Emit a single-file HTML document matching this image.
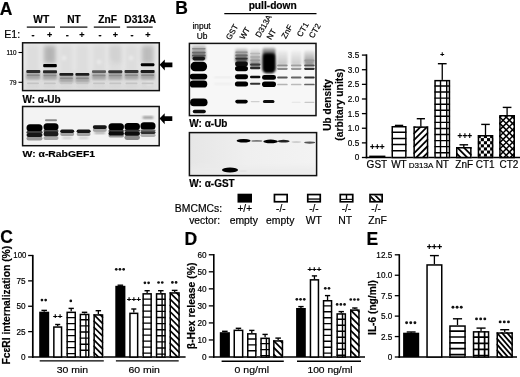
<!DOCTYPE html><html><head><meta charset="utf-8"><style>html,body{margin:0;padding:0;background:#fff;width:520px;height:377px;overflow:hidden;}svg{display:block;font-family:"Liberation Sans",sans-serif;filter:grayscale(1);}text{stroke:#000;stroke-width:0.18px;}</style></head><body><svg width="520" height="377" viewBox="0 0 520 377" font-family='"Liberation Sans", sans-serif' fill="#000"><defs><filter id="b05" x="-50%" y="-50%" width="200%" height="200%"><feGaussianBlur stdDeviation="0.5"/></filter><filter id="b07" x="-50%" y="-50%" width="200%" height="200%"><feGaussianBlur stdDeviation="0.7"/></filter><filter id="b08" x="-50%" y="-50%" width="200%" height="200%"><feGaussianBlur stdDeviation="0.8"/></filter><filter id="b12" x="-50%" y="-50%" width="200%" height="200%"><feGaussianBlur stdDeviation="1.2"/></filter><filter id="b2" x="-50%" y="-50%" width="200%" height="200%"><feGaussianBlur stdDeviation="2"/></filter><filter id="b3" x="-50%" y="-50%" width="200%" height="200%"><feGaussianBlur stdDeviation="3"/></filter><clipPath id="cA1"><rect x="22.6" y="42.8" width="136.70000000000002" height="47.8"/></clipPath><clipPath id="cA2"><rect x="22.6" y="106.5" width="136.6" height="39.19999999999999"/></clipPath><clipPath id="cB1"><rect x="189.4" y="43.4" width="126.6" height="72.19999999999999"/></clipPath><linearGradient id="gs1" x1="0" y1="0" x2="0" y2="1"><stop offset="0" stop-color="#d8d8d8"/><stop offset="1" stop-color="#505050"/></linearGradient><linearGradient id="gs2" x1="0" y1="0" x2="0" y2="1"><stop offset="0" stop-color="#e2e2e2"/><stop offset="1" stop-color="#3a3a3a"/></linearGradient><linearGradient id="gs3" x1="0" y1="0" x2="0" y2="1"><stop offset="0" stop-color="#ececec"/><stop offset="1" stop-color="#8a8a8a"/></linearGradient><linearGradient id="gs4" x1="0" y1="0" x2="0" y2="1"><stop offset="0" stop-color="#c8c8c8"/><stop offset="1" stop-color="#1a1a1a"/></linearGradient><linearGradient id="gs5" x1="0" y1="0" x2="0" y2="1"><stop offset="0" stop-color="#eeeeee"/><stop offset="1" stop-color="#c4c4c4"/></linearGradient><linearGradient id="gs6" x1="0" y1="0" x2="0" y2="1"><stop offset="0" stop-color="#f0f0f0"/><stop offset="1" stop-color="#cacaca"/></linearGradient><linearGradient id="gs7" x1="0" y1="0" x2="0" y2="1"><stop offset="0" stop-color="#e8e8e8"/><stop offset="1" stop-color="#8a8a8a"/></linearGradient><clipPath id="cB2"><rect x="189.4" y="132.6" width="127.20000000000002" height="43.0"/></clipPath><linearGradient id="gB2" x1="0" y1="0" x2="1" y2="0"><stop offset="0" stop-color="#e6e6e6"/><stop offset="0.45" stop-color="#efefef"/><stop offset="1" stop-color="#f3f3f3"/></linearGradient><clipPath id="bc1"><rect x="391.5" y="126.0" width="15.100000000000023" height="31.5"/></clipPath><clipPath id="bc2"><rect x="413.4" y="126.4" width="14.900000000000034" height="31.099999999999994"/></clipPath><clipPath id="bc3"><rect x="434.3" y="79.9" width="15.899999999999977" height="77.6"/></clipPath><clipPath id="bc4"><rect x="456.0" y="147.0" width="15.600000000000023" height="10.5"/></clipPath><clipPath id="bc5"><rect x="477.7" y="135.0" width="15.600000000000023" height="22.5"/></clipPath><clipPath id="bc6"><rect x="499.2" y="115.0" width="15.800000000000011" height="42.5"/></clipPath><clipPath id="bc7"><rect x="66.4" y="311.6" width="9.599999999999994" height="45.39999999999998"/></clipPath><clipPath id="bc8"><rect x="79.6" y="313.7" width="9.900000000000006" height="43.30000000000001"/></clipPath><clipPath id="bc9"><rect x="93.4" y="314.2" width="9.899999999999991" height="42.80000000000001"/></clipPath><clipPath id="bc10"><rect x="142.4" y="293.1" width="9.5" height="63.89999999999998"/></clipPath><clipPath id="bc11"><rect x="155.8" y="293.1" width="10.0" height="63.89999999999998"/></clipPath><clipPath id="bc12"><rect x="169.5" y="292.2" width="10.300000000000011" height="64.80000000000001"/></clipPath><clipPath id="bc13"><rect x="247.0" y="333.1" width="9.600000000000023" height="23.899999999999977"/></clipPath><clipPath id="bc14"><rect x="260.3" y="337.6" width="9.599999999999966" height="19.399999999999977"/></clipPath><clipPath id="bc15"><rect x="273.1" y="340.2" width="10.099999999999966" height="16.80000000000001"/></clipPath><clipPath id="bc16"><rect x="322.8" y="300.0" width="9.5" height="57.0"/></clipPath><clipPath id="bc17"><rect x="336.4" y="313.2" width="9.700000000000045" height="43.80000000000001"/></clipPath><clipPath id="bc18"><rect x="350.0" y="309.4" width="9.699999999999989" height="47.60000000000002"/></clipPath><clipPath id="bc19"><rect x="449.2" y="325.3" width="16.600000000000023" height="31.69999999999999"/></clipPath><clipPath id="bc20"><rect x="472.8" y="331.1" width="16.5" height="25.899999999999977"/></clipPath><clipPath id="bc21"><rect x="496.5" y="332.3" width="16.399999999999977" height="24.69999999999999"/></clipPath></defs><rect width="520" height="377" fill="#fff"/><text x="-0.2" y="15.0" font-size="17.5" font-weight="bold" text-anchor="start" >A</text>
<text x="41.2" y="23.0" font-size="10.2" font-weight="bold" text-anchor="middle" >WT</text>
<text x="74" y="23.0" font-size="10.2" font-weight="bold" text-anchor="middle" >NT</text>
<text x="107.7" y="23.0" font-size="10.2" font-weight="bold" text-anchor="middle" >ZnF</text>
<text x="140.2" y="23.0" font-size="10.2" font-weight="bold" text-anchor="middle" >D313A</text>
<line x1="26.8" y1="27.1" x2="55" y2="27.1" stroke="#000" stroke-width="1.2"/>
<line x1="60" y1="27.1" x2="87.4" y2="27.1" stroke="#000" stroke-width="1.2"/>
<line x1="93.8" y1="27.1" x2="120.1" y2="27.1" stroke="#000" stroke-width="1.2"/>
<line x1="126.7" y1="27.1" x2="152.7" y2="27.1" stroke="#000" stroke-width="1.2"/>
<text transform="translate(4.3,38.4) scale(1.06,1)" font-size="10" text-anchor="start" stroke="#000" stroke-width="0.35">E1:</text>
<text x="33" y="38.4" font-size="9" font-weight="bold" text-anchor="middle" >-</text>
<text x="49.6" y="38.4" font-size="9" font-weight="bold" text-anchor="middle" >+</text>
<text x="67.3" y="38.4" font-size="9" font-weight="bold" text-anchor="middle" >-</text>
<text x="82" y="38.4" font-size="9" font-weight="bold" text-anchor="middle" >+</text>
<text x="99.9" y="38.4" font-size="9" font-weight="bold" text-anchor="middle" >-</text>
<text x="115.5" y="38.4" font-size="9" font-weight="bold" text-anchor="middle" >+</text>
<text x="132" y="38.4" font-size="9" font-weight="bold" text-anchor="middle" >-</text>
<text x="148" y="38.4" font-size="9" font-weight="bold" text-anchor="middle" >+</text>
<rect x="22.6" y="42.8" width="136.70000000000002" height="47.8" fill="#e9e9e9"/>
<g clip-path="url(#cA1)">
<rect x="22.6" y="72.8" width="136.70000000000002" height="20" fill="#dcdcdc" filter="url(#b3)"/>
<rect x="26.5" y="44.8" width="13" height="43.8" fill="#dddddd" filter="url(#b2)"/>
<rect x="43.3" y="44.8" width="13" height="43.8" fill="#dddddd" filter="url(#b2)"/>
<rect x="59.7" y="44.8" width="13" height="43.8" fill="#dddddd" filter="url(#b2)"/>
<rect x="75.9" y="44.8" width="13" height="43.8" fill="#dddddd" filter="url(#b2)"/>
<rect x="92.5" y="44.8" width="13" height="43.8" fill="#dddddd" filter="url(#b2)"/>
<rect x="108.8" y="44.8" width="13" height="43.8" fill="#dddddd" filter="url(#b2)"/>
<rect x="125.0" y="44.8" width="13" height="43.8" fill="#dddddd" filter="url(#b2)"/>
<rect x="141.1" y="44.8" width="13" height="43.8" fill="#dddddd" filter="url(#b2)"/>
<circle cx="64" cy="58" r="2.5" fill="#e8e8e8" filter="url(#b12)"/>
<circle cx="99" cy="62" r="2.5" fill="#e8e8e8" filter="url(#b12)"/>
<circle cx="112" cy="60" r="2.5" fill="#e8e8e8" filter="url(#b12)"/>
<circle cx="131" cy="58" r="2.5" fill="#e8e8e8" filter="url(#b12)"/>
<circle cx="149" cy="84" r="2.5" fill="#e8e8e8" filter="url(#b12)"/>
<rect x="44.3" y="46" width="11" height="17" fill="#b4b4b4" filter="url(#b2)"/>
<rect x="142.1" y="46" width="11" height="17" fill="#bcbcbc" filter="url(#b2)"/>
<rect x="109.8" y="46" width="11" height="17" fill="#d2d2d2" filter="url(#b2)"/>
<rect x="26.5" y="72.9" width="13" height="7" fill="#c2c2c2" filter="url(#b12)"/>
<rect x="43.3" y="73.2" width="13" height="7" fill="#c2c2c2" filter="url(#b12)"/>
<rect x="59.7" y="75.9" width="13" height="7" fill="#c2c2c2" filter="url(#b12)"/>
<rect x="75.9" y="75.9" width="13" height="7" fill="#c2c2c2" filter="url(#b12)"/>
<rect x="92.5" y="73.2" width="13" height="7" fill="#c2c2c2" filter="url(#b12)"/>
<rect x="108.8" y="73.2" width="13" height="7" fill="#c2c2c2" filter="url(#b12)"/>
<rect x="125.0" y="72.9" width="13" height="7" fill="#c2c2c2" filter="url(#b12)"/>
<rect x="141.1" y="72.9" width="13" height="7" fill="#c2c2c2" filter="url(#b12)"/>
<rect x="26.499999999999996" y="72.4" width="13.6" height="6.5" fill="#a6a6a6" filter="url(#b08)"/>
<rect x="26.299999999999997" y="69.9" width="14" height="3.0" rx="1" fill="#2e2e2e" filter="url(#b07)"/>
<rect x="26.799999999999997" y="74.5" width="13.0" height="1.4" rx="0.7" fill="#8a8a8a" opacity="1" filter="url(#b07)"/>
<rect x="43.2" y="72.7" width="13.6" height="6.5" fill="#a6a6a6" filter="url(#b08)"/>
<rect x="43.0" y="70.2" width="14" height="3.0" rx="1" fill="#262626" filter="url(#b07)"/>
<rect x="43.5" y="74.8" width="13.0" height="1.4" rx="0.7" fill="#8a8a8a" opacity="1" filter="url(#b07)"/>
<rect x="59.60000000000001" y="75.4" width="13.6" height="6.5" fill="#a6a6a6" filter="url(#b08)"/>
<rect x="59.400000000000006" y="73.10000000000001" width="14" height="2.6" rx="1" fill="#1a1a1a" filter="url(#b07)"/>
<rect x="59.900000000000006" y="77.5" width="13.0" height="1.4" rx="0.7" fill="#8a8a8a" opacity="1" filter="url(#b07)"/>
<rect x="75.60000000000001" y="75.4" width="13.6" height="6.5" fill="#a6a6a6" filter="url(#b08)"/>
<rect x="75.4" y="73.10000000000001" width="14" height="2.6" rx="1" fill="#1c1c1c" filter="url(#b07)"/>
<rect x="75.9" y="77.5" width="13.0" height="1.4" rx="0.7" fill="#8a8a8a" opacity="1" filter="url(#b07)"/>
<rect x="92.2" y="72.7" width="13.6" height="6.5" fill="#a6a6a6" filter="url(#b08)"/>
<rect x="92" y="70.3" width="14" height="2.8" rx="1" fill="#5a5a5a" filter="url(#b07)"/>
<rect x="92.5" y="74.8" width="13.0" height="1.4" rx="0.7" fill="#8a8a8a" opacity="1" filter="url(#b07)"/>
<rect x="108.5" y="72.7" width="13.6" height="6.5" fill="#a6a6a6" filter="url(#b08)"/>
<rect x="108.3" y="70.2" width="14" height="3.0" rx="1" fill="#363636" filter="url(#b07)"/>
<rect x="108.8" y="74.8" width="13.0" height="1.4" rx="0.7" fill="#8a8a8a" opacity="1" filter="url(#b07)"/>
<rect x="124.7" y="72.4" width="13.6" height="6.5" fill="#a6a6a6" filter="url(#b08)"/>
<rect x="124.5" y="69.9" width="14" height="3.0" rx="1" fill="#363636" filter="url(#b07)"/>
<rect x="125.0" y="74.5" width="13.0" height="1.4" rx="0.7" fill="#8a8a8a" opacity="1" filter="url(#b07)"/>
<rect x="140.79999999999998" y="72.4" width="13.6" height="6.5" fill="#a6a6a6" filter="url(#b08)"/>
<rect x="140.6" y="69.9" width="14" height="3.0" rx="1" fill="#1e1e1e" filter="url(#b07)"/>
<rect x="141.1" y="74.5" width="13.0" height="1.4" rx="0.7" fill="#8a8a8a" opacity="1" filter="url(#b07)"/>
<rect x="43.2" y="63.99999999999999" width="13.6" height="3.2" rx="1" fill="#000" filter="url(#b07)"/>
<rect x="140.79999999999998" y="63.3" width="13.6" height="3.0" rx="1" fill="#000" filter="url(#b07)"/>
<rect x="27" y="82.60000000000001" width="12" height="1.6" rx="0.8" fill="#c4c4c4" opacity="1" filter="url(#b07)"/>
<rect x="27" y="85.7" width="12" height="1.6" rx="0.8" fill="#d2d2d2" opacity="1" filter="url(#b08)"/>
<rect x="43.8" y="82.60000000000001" width="12.0" height="1.6" rx="0.8" fill="#c4c4c4" opacity="1" filter="url(#b07)"/>
<rect x="43.8" y="85.7" width="12.0" height="1.6" rx="0.8" fill="#d2d2d2" opacity="1" filter="url(#b08)"/>
<rect x="60.2" y="82.60000000000001" width="12.0" height="1.6" rx="0.8" fill="#c4c4c4" opacity="1" filter="url(#b07)"/>
<rect x="60.2" y="85.7" width="12.0" height="1.6" rx="0.8" fill="#d2d2d2" opacity="1" filter="url(#b08)"/>
<rect x="76.4" y="82.60000000000001" width="12.0" height="1.6" rx="0.8" fill="#c4c4c4" opacity="1" filter="url(#b07)"/>
<rect x="76.4" y="85.7" width="12.0" height="1.6" rx="0.8" fill="#d2d2d2" opacity="1" filter="url(#b08)"/>
<rect x="93" y="82.60000000000001" width="12" height="1.6" rx="0.8" fill="#c4c4c4" opacity="1" filter="url(#b07)"/>
<rect x="93" y="85.7" width="12" height="1.6" rx="0.8" fill="#d2d2d2" opacity="1" filter="url(#b08)"/>
<rect x="109.3" y="82.60000000000001" width="12.0" height="1.6" rx="0.8" fill="#c4c4c4" opacity="1" filter="url(#b07)"/>
<rect x="109.3" y="85.7" width="12.0" height="1.6" rx="0.8" fill="#d2d2d2" opacity="1" filter="url(#b08)"/>
<rect x="125.5" y="82.60000000000001" width="12.0" height="1.6" rx="0.8" fill="#c4c4c4" opacity="1" filter="url(#b07)"/>
<rect x="125.5" y="85.7" width="12.0" height="1.6" rx="0.8" fill="#d2d2d2" opacity="1" filter="url(#b08)"/>
<rect x="141.6" y="82.60000000000001" width="12.0" height="1.6" rx="0.8" fill="#c4c4c4" opacity="1" filter="url(#b07)"/>
<rect x="141.6" y="85.7" width="12.0" height="1.6" rx="0.8" fill="#d2d2d2" opacity="1" filter="url(#b08)"/>
</g>
<rect x="22.6" y="42.8" width="136.70000000000002" height="47.8" fill="none" stroke="#111" stroke-width="1.5"/>
<line x1="18.5" y1="52.5" x2="22.6" y2="52.5" stroke="#000" stroke-width="1.1"/>
<line x1="18.5" y1="82.3" x2="22.6" y2="82.3" stroke="#000" stroke-width="1.1"/>
<text x="16.6" y="54.8" font-size="6.3" text-anchor="end" >110</text>
<text x="16.6" y="84.6" font-size="6.3" text-anchor="end" >79</text>
<path d="M159.6,64.8 L164.79999999999998,59.4 L164.79999999999998,62.4 L172.4,62.4 L172.4,67.2 L164.79999999999998,67.2 L164.79999999999998,70.39999999999999 Z" fill="#000"/>
<text x="22.5" y="102.8" font-size="10" font-weight="bold" text-anchor="start" >W: α-Ub</text>
<rect x="22.6" y="106.5" width="136.6" height="39.19999999999999" fill="#f3f3f3"/>
<g clip-path="url(#cA2)">
<rect x="26.5" y="136.5" width="16" height="4.0" rx="2.0" fill="#9a9a9a" filter="url(#b07)"/>
<rect x="26.5" y="124.3" width="16" height="7.200000000000003" rx="3.5" fill="#000" filter="url(#b07)"/>
<rect x="26.5" y="131.0" width="16" height="2.5" rx="1.25" fill="#3a3a3a" filter="url(#b07)"/>
<rect x="26.5" y="133.0" width="16" height="4.0" rx="2.0" fill="#141414" filter="url(#b07)"/>
<rect x="45" y="119.3" width="12" height="2.0" rx="1.0" fill="#8a8a8a" opacity="1" filter="url(#b07)"/>
<rect x="43.5" y="136" width="15" height="4" rx="2.0" fill="#a8a8a8" filter="url(#b07)"/>
<rect x="43.5" y="123.3" width="15" height="7.200000000000003" rx="3.5" fill="#000" filter="url(#b07)"/>
<rect x="43.5" y="130.0" width="15" height="2.0" rx="1.0" fill="#484848" filter="url(#b07)"/>
<rect x="43.5" y="131.6" width="15" height="4.599999999999994" rx="2.299999999999997" fill="#1c1c1c" filter="url(#b07)"/>
<rect x="60.2" y="132.2" width="14" height="3.8000000000000114" rx="1.9000000000000057" fill="#a2a2a2" filter="url(#b07)"/>
<rect x="60.2" y="129.4" width="14" height="3.5999999999999943" rx="1.7999999999999972" fill="#121212" filter="url(#b07)"/>
<rect x="62.2" y="137.1" width="10.0" height="1.6" rx="0.8" fill="#c4c4c4" opacity="1" filter="url(#b08)"/>
<rect x="76.6" y="132.2" width="14" height="3.8000000000000114" rx="1.9000000000000057" fill="#a2a2a2" filter="url(#b07)"/>
<rect x="76.6" y="129.4" width="14" height="3.5999999999999943" rx="1.7999999999999972" fill="#121212" filter="url(#b07)"/>
<rect x="78.6" y="137.1" width="10.0" height="1.6" rx="0.8" fill="#c4c4c4" opacity="1" filter="url(#b08)"/>
<rect x="92.8" y="128.4" width="14" height="3.4000000000000057" rx="1.7000000000000028" fill="#a4a4a4" filter="url(#b07)"/>
<rect x="92.8" y="125.2" width="14" height="3.700000000000003" rx="1.8500000000000014" fill="#141414" filter="url(#b07)"/>
<rect x="94.3" y="131.89999999999998" width="11.0" height="1.6" rx="0.8" fill="#888" opacity="1" filter="url(#b08)"/>
<rect x="108.45" y="134" width="15.5" height="3.5" rx="1.75" fill="#9a9a9a" filter="url(#b07)"/>
<rect x="108.45" y="123.2" width="15.5" height="7.299999999999997" rx="3.5" fill="#000" filter="url(#b07)"/>
<rect x="108.45" y="130.0" width="15.5" height="2.0" rx="1.0" fill="#3c3c3c" filter="url(#b07)"/>
<rect x="108.45" y="131.6" width="15.5" height="3.8000000000000114" rx="1.9000000000000057" fill="#0e0e0e" filter="url(#b07)"/>
<rect x="124.44999999999999" y="135.2" width="15.5" height="4.800000000000011" rx="2.4000000000000057" fill="#8a8a8a" filter="url(#b07)"/>
<rect x="124.44999999999999" y="123.0" width="15.5" height="7.199999999999989" rx="3.5" fill="#000" filter="url(#b07)"/>
<rect x="124.44999999999999" y="129.8" width="15.5" height="1.799999999999983" rx="0.8999999999999915" fill="#3a3a3a" filter="url(#b07)"/>
<rect x="124.44999999999999" y="131.2" width="15.5" height="4.600000000000023" rx="2.3000000000000114" fill="#0a0a0a" filter="url(#b07)"/>
<rect x="142.5" y="116.4" width="11.0" height="2.2" rx="1.1" fill="#7a7a7a" opacity="1" filter="url(#b08)"/>
<rect x="140.5" y="133.6" width="15" height="3.4000000000000057" rx="1.7000000000000028" fill="#b0b0b0" filter="url(#b07)"/>
<rect x="140.5" y="122.2" width="15" height="7.6000000000000085" rx="3.5" fill="#000" filter="url(#b07)"/>
<rect x="140.5" y="129.4" width="15" height="2.0" rx="1.0" fill="#6a6a6a" filter="url(#b07)"/>
<rect x="140.5" y="131.2" width="15" height="2.8000000000000114" rx="1.4000000000000057" fill="#2e2e2e" filter="url(#b07)"/>
</g>
<rect x="22.6" y="106.5" width="136.6" height="39.19999999999999" fill="none" stroke="#111" stroke-width="1.5"/>
<path d="M159.5,118.6 L164.7,113.19999999999999 L164.7,116.19999999999999 L172.3,116.19999999999999 L172.3,121.0 L164.7,121.0 L164.7,124.19999999999999 Z" fill="#000"/>
<text transform="translate(22.6,157.0) scale(1.08,1)" font-size="9.6" font-weight="bold" text-anchor="start" >W: α-RabGEF1</text>
<text x="175.2" y="13.9" font-size="17.5" font-weight="bold" text-anchor="start" >B</text>
<text x="272.7" y="9.4" font-size="10.2" font-weight="bold" text-anchor="middle" >pull-down</text>
<line x1="224.3" y1="13.6" x2="316.5" y2="13.6" stroke="#000" stroke-width="1.2"/>
<text x="201.6" y="29.0" font-size="8.4" text-anchor="middle" >input</text>
<text x="202" y="39.4" font-size="8.4" text-anchor="middle" >Ub</text>
<text transform="translate(230.3,40.6) rotate(-60)" font-size="8">GST</text>
<text transform="translate(244.0,40.1) rotate(-60)" font-size="8">WT</text>
<text transform="translate(259.8,38.0) rotate(-60)" font-size="8">D313A</text>
<text transform="translate(271.0,40.3) rotate(-60)" font-size="8">NT</text>
<text transform="translate(285.8,39.2) rotate(-60)" font-size="8">ZnF</text>
<text transform="translate(301.3,37.6) rotate(-60)" font-size="8">CT1</text>
<text transform="translate(313.3,38.8) rotate(-60)" font-size="8">CT2</text>
<rect x="189.4" y="43.4" width="126.6" height="72.19999999999999" fill="#f7f7f7"/>
<g clip-path="url(#cB1)">
<rect x="191.8" y="45.0" width="14" height="15.0" rx="2" fill="url(#gs1)" opacity="1" filter="url(#b12)"/>
<rect x="192.0" y="48.0" width="13.600000000000023" height="1.6" rx="0.8" fill="#8a8a8a" opacity="1" filter="url(#b07)"/>
<rect x="192.0" y="51.800000000000004" width="13.600000000000023" height="1.6" rx="0.8" fill="#6a6a6a" opacity="1" filter="url(#b07)"/>
<rect x="192.0" y="54.800000000000004" width="13.600000000000023" height="1.6" rx="0.8" fill="#555" opacity="1" filter="url(#b07)"/>
<rect x="192.55" y="56.8" width="12.5" height="3.6000000000000014" rx="1.8" fill="#151515" filter="url(#b07)"/>
<rect x="190.55" y="61.8" width="16.5" height="9.400000000000006" rx="4.5" fill="#000" filter="url(#b07)"/>
<rect x="189.75" y="73.8" width="17.5" height="5.6000000000000085" rx="2.8" fill="#000" filter="url(#b07)"/>
<rect x="189.75" y="80.6" width="17.5" height="7.0" rx="3.4" fill="#000" filter="url(#b07)"/>
<rect x="190.05" y="98.6" width="17.5" height="7.6000000000000085" rx="3.8" fill="#000" filter="url(#b07)"/>
<rect x="192.8" y="109.8" width="13" height="3.4000000000000057" rx="1.7" fill="#080808" filter="url(#b07)"/>
<rect x="214" y="76.7" width="18" height="1.4" rx="0.7" fill="#e6e6e6" opacity="1" filter="url(#b08)"/>
<rect x="214" y="83.1" width="18" height="1.4" rx="0.7" fill="#ebebeb" opacity="1" filter="url(#b08)"/>
<rect x="235.25" y="48.0" width="12.5" height="14.5" rx="2" fill="url(#gs2)" opacity="1" filter="url(#b12)"/>
<rect x="235.3" y="51.400000000000006" width="12.399999999999977" height="1.6" rx="0.8" fill="#909090" opacity="1" filter="url(#b07)"/>
<rect x="235.3" y="54.6" width="12.399999999999977" height="1.6" rx="0.8" fill="#6a6a6a" opacity="1" filter="url(#b07)"/>
<rect x="235.3" y="57.800000000000004" width="12.399999999999977" height="1.6" rx="0.8" fill="#333" opacity="1" filter="url(#b07)"/>
<rect x="235.0" y="61.6" width="13" height="4.800000000000004" rx="2.4" fill="#0a0a0a" filter="url(#b07)"/>
<rect x="235.0" y="66.0" width="13" height="5.200000000000003" rx="2.6" fill="#000" filter="url(#b07)"/>
<rect x="234.9" y="74.3" width="13.2" height="4.900000000000006" rx="2.4" fill="#000" filter="url(#b07)"/>
<rect x="234.9" y="81.6" width="13.2" height="5.0" rx="2.5" fill="#000" filter="url(#b07)"/>
<rect x="235.25" y="99.8" width="12.5" height="3.6000000000000085" rx="1.8" fill="#000" filter="url(#b07)"/>
<rect x="249.95" y="48.5" width="10.5" height="17.5" rx="2" fill="url(#gs3)" opacity="1" filter="url(#b12)"/>
<rect x="250.2" y="52.75" width="10.0" height="1.5" rx="0.75" fill="#b8b8b8" opacity="1" filter="url(#b07)"/>
<rect x="250.2" y="56.25" width="10.0" height="1.5" rx="0.75" fill="#a8a8a8" opacity="1" filter="url(#b07)"/>
<rect x="250.2" y="59.55" width="10.0" height="1.5" rx="0.75" fill="#999" opacity="1" filter="url(#b07)"/>
<rect x="250.0" y="63.39999999999999" width="10.399999999999977" height="2.4" rx="1.2" fill="#3a3a3a" opacity="1" filter="url(#b07)"/>
<rect x="250.0" y="66.60000000000001" width="10.399999999999977" height="2.6" rx="1.3" fill="#2a2a2a" opacity="1" filter="url(#b07)"/>
<rect x="250.0" y="75.8" width="10.399999999999977" height="2.4" rx="1.2" fill="#111" opacity="1" filter="url(#b07)"/>
<rect x="250.0" y="82.8" width="10.399999999999977" height="2.0" rx="1.0" fill="#333" opacity="1" filter="url(#b07)"/>
<rect x="250.7" y="100.94999999999999" width="9.0" height="1.3" rx="0.65" fill="#cfcfcf" opacity="1" filter="url(#b07)"/>
<rect x="262.5" y="47.5" width="13" height="9.5" rx="2" fill="url(#gs4)" opacity="1" filter="url(#b12)"/>
<rect x="262.25" y="53.5" width="13.5" height="19.700000000000003" rx="4.5" fill="#000" filter="url(#b08)"/>
<rect x="262.0" y="75.0" width="14" height="4.799999999999997" rx="2.4" fill="#000" filter="url(#b07)"/>
<rect x="262.0" y="81.4" width="14" height="5.599999999999994" rx="2.8" fill="#000" filter="url(#b07)"/>
<rect x="262.95" y="99.9" width="11.5" height="3.1999999999999886" rx="1.6" fill="#080808" filter="url(#b07)"/>
<rect x="277.15" y="50.5" width="10.5" height="14.5" rx="2" fill="url(#gs5)" opacity="1" filter="url(#b12)"/>
<rect x="277.09999999999997" y="64.4" width="10.600000000000023" height="2.0" rx="1.0" fill="#8e8e8e" opacity="1" filter="url(#b05)"/>
<rect x="277.09999999999997" y="67.7" width="10.600000000000023" height="2.2" rx="1.1" fill="#8a8a8a" opacity="1" filter="url(#b05)"/>
<rect x="277.09999999999997" y="76.4" width="10.600000000000023" height="2.0" rx="1.0" fill="#555" opacity="1" filter="url(#b05)"/>
<rect x="277.09999999999997" y="83.65" width="10.600000000000023" height="1.7" rx="0.85" fill="#b4b4b4" opacity="1" filter="url(#b05)"/>
<rect x="290.95" y="50.5" width="10.5" height="14.5" rx="2" fill="url(#gs6)" opacity="1" filter="url(#b12)"/>
<rect x="290.9" y="64.4" width="10.600000000000023" height="2.0" rx="1.0" fill="#a0a0a0" opacity="1" filter="url(#b05)"/>
<rect x="290.9" y="67.7" width="10.600000000000023" height="2.2" rx="1.1" fill="#9a9a9a" opacity="1" filter="url(#b05)"/>
<rect x="290.9" y="76.4" width="10.600000000000023" height="2.0" rx="1.0" fill="#666" opacity="1" filter="url(#b05)"/>
<rect x="290.9" y="83.65" width="10.600000000000023" height="1.7" rx="0.85" fill="#bbbbbb" opacity="1" filter="url(#b05)"/>
<rect x="304.15" y="50.5" width="10.5" height="14.5" rx="2" fill="url(#gs7)" opacity="1" filter="url(#b12)"/>
<rect x="304.09999999999997" y="64.4" width="10.600000000000023" height="2.0" rx="1.0" fill="#555" opacity="1" filter="url(#b05)"/>
<rect x="304.09999999999997" y="67.7" width="10.600000000000023" height="2.2" rx="1.1" fill="#333" opacity="1" filter="url(#b05)"/>
<rect x="304.09999999999997" y="76.4" width="10.600000000000023" height="2.0" rx="1.0" fill="#333" opacity="1" filter="url(#b05)"/>
<rect x="304.09999999999997" y="83.65" width="10.600000000000023" height="1.7" rx="0.85" fill="#666" opacity="1" filter="url(#b05)"/>
<rect x="304.4" y="59.6" width="10.0" height="1.8" rx="0.9" fill="#999" opacity="1" filter="url(#b05)"/>
<rect x="304.4" y="101.64999999999999" width="10.0" height="1.3" rx="0.65" fill="#c8c8c8" opacity="1" filter="url(#b05)"/>
<rect x="291.7" y="101.8" width="9.0" height="1.0" rx="0.5" fill="#e4e4e4" opacity="1" filter="url(#b05)"/>
</g>
<rect x="189.4" y="43.4" width="126.6" height="72.19999999999999" fill="none" stroke="#111" stroke-width="1.5"/>
<text x="189.3" y="126.8" font-size="10" font-weight="bold" text-anchor="start" >W: α-Ub</text>
<rect x="189.4" y="132.6" width="127.20000000000002" height="43.0" fill="#f1f1f1"/>
<g clip-path="url(#cB2)">
<rect x="189.4" y="132.6" width="127.20000000000002" height="43.0" fill="url(#gB2)"/>
<rect x="189.4" y="167.6" width="127.20000000000002" height="8" fill="#ebebeb" filter="url(#b3)"/>
<ellipse cx="230" cy="170" rx="8.0" ry="2.6" fill="#000" opacity="1" filter="url(#b05)"/>
<rect x="224.5" y="168.0" width="11.0" height="4.0" rx="2.0" fill="#000" opacity="1" filter="url(#b05)"/>
<ellipse cx="243.6" cy="140.7" rx="7.0" ry="1.7" fill="#000" opacity="1" filter="url(#b05)"/>
<rect x="239" y="139.39999999999998" width="9" height="2.6" rx="1.3" fill="#000" opacity="1" filter="url(#b05)"/>
<ellipse cx="256.8" cy="140.9" rx="5.5" ry="0.9" fill="#777" opacity="1" filter="url(#b05)"/>
<ellipse cx="270.6" cy="141.4" rx="7.25" ry="1.8" fill="#000" opacity="1" filter="url(#b05)"/>
<rect x="266" y="140.0" width="9" height="2.8" rx="1.4" fill="#000" opacity="1" filter="url(#b05)"/>
<ellipse cx="283.6" cy="141.2" rx="6.0" ry="1.4" fill="#222" opacity="1" filter="url(#b05)"/>
<ellipse cx="296.4" cy="142" rx="5.0" ry="0.8" fill="#c4c4c4" opacity="1" filter="url(#b05)"/>
<ellipse cx="309.7" cy="142.6" rx="5.5" ry="1.1" fill="#555" opacity="1" filter="url(#b05)"/>
<ellipse cx="243" cy="171" rx="4.5" ry="0.8" fill="#e2e2e2" opacity="1" filter="url(#b05)"/>
</g>
<rect x="189.4" y="132.6" width="127.20000000000002" height="43.0" fill="none" stroke="#111" stroke-width="1.5"/>
<text x="189.3" y="186.9" font-size="10" font-weight="bold" text-anchor="start" >W: α-GST</text>
<text transform="translate(174.8,212.4) scale(1.04,1)" font-size="10" text-anchor="start" >BMCMCs:</text>
<text transform="translate(189.2,224.4) scale(1.03,1)" font-size="10" text-anchor="start" >vector:</text>
<rect x="237.5" y="193.7" width="14.5" height="8.900000000000006" fill="#000" stroke="none" stroke-width="0" />
<text x="244.75" y="212.1" font-size="10" text-anchor="middle" stroke="#000" stroke-width="0.2">+/+</text>
<rect x="273.6" y="193.7" width="14.399999999999977" height="8.900000000000006" fill="#000" stroke="none" stroke-width="0" />
<rect x="275.3" y="195.39999999999998" width="10.999999999999977" height="5.500000000000005" fill="#fff" stroke="none" stroke-width="0" />
<text x="280.8" y="212.1" font-size="10" text-anchor="middle" stroke="#000" stroke-width="0.2">-/-</text>
<rect x="306.9" y="193.7" width="14.200000000000045" height="8.900000000000006" fill="#000" stroke="none" stroke-width="0" />
<rect x="308.59999999999997" y="195.39999999999998" width="10.800000000000045" height="3.0" fill="#fff" stroke="none" stroke-width="0" />
<rect x="308.59999999999997" y="199.7" width="10.800000000000045" height="1.2" fill="#fff" stroke="none" stroke-width="0" />
<text x="314.0" y="212.1" font-size="10" text-anchor="middle" stroke="#000" stroke-width="0.2">-/-</text>
<rect x="339.4" y="193.7" width="14.200000000000045" height="8.900000000000006" fill="#000" stroke="none" stroke-width="0" />
<rect x="341.09999999999997" y="195.39999999999998" width="4.700000000000022" height="3.4" fill="#fff" stroke="none" stroke-width="0" />
<rect x="347.2" y="195.39999999999998" width="4.700000000000022" height="3.4" fill="#fff" stroke="none" stroke-width="0" />
<rect x="341.09999999999997" y="199.89999999999998" width="10.800000000000045" height="1.1" fill="#fff" stroke="none" stroke-width="0" />
<text x="346.5" y="212.1" font-size="10" text-anchor="middle" stroke="#000" stroke-width="0.2">-/-</text>
<rect x="369.2" y="193.7" width="13.800000000000011" height="8.900000000000006" fill="#000" stroke="none" stroke-width="0" />
<rect x="370.9" y="195.39999999999998" width="10.400000000000011" height="5.500000000000005" fill="#fff" stroke="none" stroke-width="0" />
<clipPath id="cld"><rect x="370.9" y="195.39999999999998" width="10.400000000000011" height="5.500000000000005"/></clipPath>
<g clip-path="url(#cld)" stroke="#000" stroke-width="1.7">
<line x1="367.7" y1="193.7" x2="376.7" y2="202.6"/>
<line x1="373.5" y1="193.7" x2="382.5" y2="202.6"/>
<line x1="379.3" y1="193.7" x2="388.3" y2="202.6"/>
</g>
<text x="376.1" y="212.1" font-size="10" text-anchor="middle" stroke="#000" stroke-width="0.2">-/-</text>
<text transform="translate(243.8,224.4) scale(1.04,1)" font-size="10" text-anchor="middle" >empty</text>
<text transform="translate(280.2,224.4) scale(1.04,1)" font-size="10" text-anchor="middle" >empty</text>
<text transform="translate(313.8,224.4) scale(1.04,1)" font-size="10" text-anchor="middle" >WT</text>
<text transform="translate(345.3,224.4) scale(1.04,1)" font-size="10" text-anchor="middle" >NT</text>
<text transform="translate(377.6,224.4) scale(1.04,1)" font-size="10" text-anchor="middle" >ZnF</text>
<text transform="translate(330.6,104.9) rotate(-90)" font-size="10.15" font-weight="bold" text-anchor="middle">Ub density</text>
<text transform="translate(342.6,104.7) rotate(-90)" font-size="10.3" font-weight="bold" text-anchor="middle">(arbitary units)</text>
<line x1="366.5" y1="54.3" x2="366.5" y2="158.3" stroke="#000" stroke-width="1.6"/>
<line x1="365.7" y1="157.5" x2="520" y2="157.5" stroke="#000" stroke-width="1.6"/>
<line x1="361.9" y1="55.08999999999999" x2="366.5" y2="55.08999999999999" stroke="#000" stroke-width="1.3"/>
<text x="359.2" y="58.03999999999999" font-size="8.2" text-anchor="end" >3.5</text>
<line x1="361.9" y1="69.72" x2="366.5" y2="69.72" stroke="#000" stroke-width="1.3"/>
<text x="359.2" y="72.67" font-size="8.2" text-anchor="end" >3.0</text>
<line x1="361.9" y1="84.35" x2="366.5" y2="84.35" stroke="#000" stroke-width="1.3"/>
<text x="359.2" y="87.3" font-size="8.2" text-anchor="end" >2.5</text>
<line x1="361.9" y1="98.97999999999999" x2="366.5" y2="98.97999999999999" stroke="#000" stroke-width="1.3"/>
<text x="359.2" y="101.92999999999999" font-size="8.2" text-anchor="end" >2.0</text>
<line x1="361.9" y1="113.61" x2="366.5" y2="113.61" stroke="#000" stroke-width="1.3"/>
<text x="359.2" y="116.56" font-size="8.2" text-anchor="end" >1.5</text>
<line x1="361.9" y1="128.24" x2="366.5" y2="128.24" stroke="#000" stroke-width="1.3"/>
<text x="359.2" y="131.19" font-size="8.2" text-anchor="end" >1.0</text>
<line x1="361.9" y1="142.87" x2="366.5" y2="142.87" stroke="#000" stroke-width="1.3"/>
<text x="359.2" y="145.82" font-size="8.2" text-anchor="end" >0.5</text>
<line x1="361.9" y1="157.5" x2="366.5" y2="157.5" stroke="#000" stroke-width="1.3"/>
<text x="359.2" y="160.45" font-size="8.2" text-anchor="end" >0</text>
<rect x="369.2" y="155.6" width="16.19999999999999" height="1.9000000000000057" fill="#000" stroke="none" stroke-width="0" />
<line x1="399.05" y1="125.4" x2="399.05" y2="126.0" stroke="#000" stroke-width="1.3"/>
<line x1="394.8975" y1="125.4" x2="403.20250000000004" y2="125.4" stroke="#000" stroke-width="1.4"/>
<rect x="391.5" y="126.0" width="15.100000000000023" height="31.5" fill="#fff"/>
<g clip-path="url(#bc1)" stroke="#000">
<line x1="391.5" y1="132.20" x2="406.6" y2="132.20" stroke-width="1.5"/>
<line x1="391.5" y1="138.40" x2="406.6" y2="138.40" stroke-width="1.5"/>
<line x1="391.5" y1="144.60" x2="406.6" y2="144.60" stroke-width="1.5"/>
<line x1="391.5" y1="150.80" x2="406.6" y2="150.80" stroke-width="1.5"/>
</g>
<rect x="392.25" y="126.75" width="13.600000000000023" height="30.75" fill="none" stroke="#000" stroke-width="1.5" />
<line x1="420.85" y1="118.7" x2="420.85" y2="126.4" stroke="#000" stroke-width="1.3"/>
<line x1="416.7525" y1="118.7" x2="424.94750000000005" y2="118.7" stroke="#000" stroke-width="1.4"/>
<rect x="413.4" y="126.4" width="14.900000000000034" height="31.099999999999994" fill="#fff"/>
<g clip-path="url(#bc2)" stroke="#000">
<line x1="413.4" y1="114.20" x2="428.3" y2="99.30" stroke-width="1.8"/>
<line x1="413.4" y1="120.80" x2="428.3" y2="105.90" stroke-width="1.8"/>
<line x1="413.4" y1="127.40" x2="428.3" y2="112.50" stroke-width="1.8"/>
<line x1="413.4" y1="134.00" x2="428.3" y2="119.10" stroke-width="1.8"/>
<line x1="413.4" y1="140.60" x2="428.3" y2="125.70" stroke-width="1.8"/>
<line x1="413.4" y1="147.20" x2="428.3" y2="132.30" stroke-width="1.8"/>
<line x1="413.4" y1="153.80" x2="428.3" y2="138.90" stroke-width="1.8"/>
<line x1="413.4" y1="160.40" x2="428.3" y2="145.50" stroke-width="1.8"/>
<line x1="413.4" y1="167.00" x2="428.3" y2="152.10" stroke-width="1.8"/>
<line x1="413.4" y1="173.60" x2="428.3" y2="158.70" stroke-width="1.8"/>
</g>
<rect x="414.15" y="127.15" width="13.400000000000034" height="30.349999999999994" fill="none" stroke="#000" stroke-width="1.5" />
<line x1="442.25" y1="63.7" x2="442.25" y2="79.9" stroke="#000" stroke-width="1.3"/>
<line x1="437.8775" y1="63.7" x2="446.6225" y2="63.7" stroke="#000" stroke-width="1.4"/>
<rect x="434.3" y="79.9" width="15.899999999999977" height="77.6" fill="#fff"/>
<g clip-path="url(#bc3)" stroke="#000">
<line x1="434.3" y1="85.97" x2="450.2" y2="85.97" stroke-width="1.4"/>
<line x1="434.3" y1="92.04" x2="450.2" y2="92.04" stroke-width="1.4"/>
<line x1="434.3" y1="98.11" x2="450.2" y2="98.11" stroke-width="1.4"/>
<line x1="434.3" y1="104.18" x2="450.2" y2="104.18" stroke-width="1.4"/>
<line x1="434.3" y1="110.25" x2="450.2" y2="110.25" stroke-width="1.4"/>
<line x1="434.3" y1="116.32" x2="450.2" y2="116.32" stroke-width="1.4"/>
<line x1="434.3" y1="122.39" x2="450.2" y2="122.39" stroke-width="1.4"/>
<line x1="434.3" y1="128.46" x2="450.2" y2="128.46" stroke-width="1.4"/>
<line x1="434.3" y1="134.53" x2="450.2" y2="134.53" stroke-width="1.4"/>
<line x1="434.3" y1="140.60" x2="450.2" y2="140.60" stroke-width="1.4"/>
<line x1="434.3" y1="146.67" x2="450.2" y2="146.67" stroke-width="1.4"/>
<line x1="434.3" y1="152.74" x2="450.2" y2="152.74" stroke-width="1.4"/>
<line x1="440.50" y1="79.9" x2="440.50" y2="157.5" stroke-width="1.4"/>
<line x1="446.70" y1="79.9" x2="446.70" y2="157.5" stroke-width="1.4"/>
</g>
<rect x="435.05" y="80.65" width="14.399999999999977" height="76.85" fill="none" stroke="#000" stroke-width="1.5" />
<line x1="463.8" y1="144.8" x2="463.8" y2="147.0" stroke="#000" stroke-width="1.3"/>
<line x1="459.51" y1="144.8" x2="468.09000000000003" y2="144.8" stroke="#000" stroke-width="1.4"/>
<rect x="456.0" y="147.0" width="15.600000000000023" height="10.5" fill="#fff"/>
<g clip-path="url(#bc4)" stroke="#000">
<line x1="456.0" y1="119.90" x2="471.6" y2="135.50" stroke-width="1.8"/>
<line x1="456.0" y1="126.50" x2="471.6" y2="142.10" stroke-width="1.8"/>
<line x1="456.0" y1="133.10" x2="471.6" y2="148.70" stroke-width="1.8"/>
<line x1="456.0" y1="139.70" x2="471.6" y2="155.30" stroke-width="1.8"/>
<line x1="456.0" y1="146.30" x2="471.6" y2="161.90" stroke-width="1.8"/>
<line x1="456.0" y1="152.90" x2="471.6" y2="168.50" stroke-width="1.8"/>
<line x1="456.0" y1="159.50" x2="471.6" y2="175.10" stroke-width="1.8"/>
</g>
<rect x="456.75" y="147.75" width="14.100000000000023" height="9.75" fill="none" stroke="#000" stroke-width="1.5" />
<line x1="485.5" y1="124.4" x2="485.5" y2="135.0" stroke="#000" stroke-width="1.3"/>
<line x1="481.21" y1="124.4" x2="489.79" y2="124.4" stroke="#000" stroke-width="1.4"/>
<rect x="477.7" y="135.0" width="15.600000000000023" height="22.5" fill="#fff"/>
<g clip-path="url(#bc5)" stroke="#000">
</g>
<g clip-path="url(#bc5)" fill="#000">
<rect x="477.70" y="135.00" width="3.1" height="3.1"/>
<rect x="483.90" y="135.00" width="3.1" height="3.1"/>
<rect x="490.10" y="135.00" width="3.1" height="3.1"/>
<rect x="480.80" y="138.10" width="3.1" height="3.1"/>
<rect x="487.00" y="138.10" width="3.1" height="3.1"/>
<rect x="493.20" y="138.10" width="3.1" height="3.1"/>
<rect x="477.70" y="141.20" width="3.1" height="3.1"/>
<rect x="483.90" y="141.20" width="3.1" height="3.1"/>
<rect x="490.10" y="141.20" width="3.1" height="3.1"/>
<rect x="480.80" y="144.30" width="3.1" height="3.1"/>
<rect x="487.00" y="144.30" width="3.1" height="3.1"/>
<rect x="493.20" y="144.30" width="3.1" height="3.1"/>
<rect x="477.70" y="147.40" width="3.1" height="3.1"/>
<rect x="483.90" y="147.40" width="3.1" height="3.1"/>
<rect x="490.10" y="147.40" width="3.1" height="3.1"/>
<rect x="480.80" y="150.50" width="3.1" height="3.1"/>
<rect x="487.00" y="150.50" width="3.1" height="3.1"/>
<rect x="493.20" y="150.50" width="3.1" height="3.1"/>
<rect x="477.70" y="153.60" width="3.1" height="3.1"/>
<rect x="483.90" y="153.60" width="3.1" height="3.1"/>
<rect x="490.10" y="153.60" width="3.1" height="3.1"/>
<rect x="480.80" y="156.70" width="3.1" height="3.1"/>
<rect x="487.00" y="156.70" width="3.1" height="3.1"/>
<rect x="493.20" y="156.70" width="3.1" height="3.1"/>
</g>
<rect x="478.45" y="135.75" width="14.100000000000023" height="21.75" fill="none" stroke="#000" stroke-width="1.5" />
<line x1="507.1" y1="107.4" x2="507.1" y2="115.0" stroke="#000" stroke-width="1.3"/>
<line x1="502.755" y1="107.4" x2="511.44500000000005" y2="107.4" stroke="#000" stroke-width="1.4"/>
<rect x="499.2" y="115.0" width="15.800000000000011" height="42.5" fill="#fff"/>
<g clip-path="url(#bc6)" stroke="#000">
<line x1="499.2" y1="97.40" x2="515.0" y2="113.20" stroke-width="1.5"/>
<line x1="499.2" y1="103.75" x2="515.0" y2="119.55" stroke-width="1.5"/>
<line x1="499.2" y1="117.75" x2="515.0" y2="101.95" stroke-width="1.5"/>
<line x1="499.2" y1="110.10" x2="515.0" y2="125.90" stroke-width="1.5"/>
<line x1="499.2" y1="124.10" x2="515.0" y2="108.30" stroke-width="1.5"/>
<line x1="499.2" y1="116.45" x2="515.0" y2="132.25" stroke-width="1.5"/>
<line x1="499.2" y1="130.45" x2="515.0" y2="114.65" stroke-width="1.5"/>
<line x1="499.2" y1="122.80" x2="515.0" y2="138.60" stroke-width="1.5"/>
<line x1="499.2" y1="136.80" x2="515.0" y2="121.00" stroke-width="1.5"/>
<line x1="499.2" y1="129.15" x2="515.0" y2="144.95" stroke-width="1.5"/>
<line x1="499.2" y1="143.15" x2="515.0" y2="127.35" stroke-width="1.5"/>
<line x1="499.2" y1="135.50" x2="515.0" y2="151.30" stroke-width="1.5"/>
<line x1="499.2" y1="149.50" x2="515.0" y2="133.70" stroke-width="1.5"/>
<line x1="499.2" y1="141.85" x2="515.0" y2="157.65" stroke-width="1.5"/>
<line x1="499.2" y1="155.85" x2="515.0" y2="140.05" stroke-width="1.5"/>
<line x1="499.2" y1="148.20" x2="515.0" y2="164.00" stroke-width="1.5"/>
<line x1="499.2" y1="162.20" x2="515.0" y2="146.40" stroke-width="1.5"/>
<line x1="499.2" y1="154.55" x2="515.0" y2="170.35" stroke-width="1.5"/>
<line x1="499.2" y1="168.55" x2="515.0" y2="152.75" stroke-width="1.5"/>
<line x1="499.2" y1="174.90" x2="515.0" y2="159.10" stroke-width="1.5"/>
</g>
<rect x="499.95" y="115.75" width="14.300000000000011" height="41.75" fill="none" stroke="#000" stroke-width="1.5" />
<text x="377.3" y="150.4" font-size="8.2" font-weight="bold" text-anchor="middle" >+++</text>
<text x="442.4" y="56.6" font-size="7" font-weight="bold" text-anchor="middle" >+</text>
<text x="464.8" y="138.9" font-size="8.2" font-weight="bold" text-anchor="middle" >+++</text>
<text x="376.9" y="168.2" font-size="10" text-anchor="middle" >GST</text>
<text x="398.9" y="168.2" font-size="10" text-anchor="middle" >WT</text>
<text x="421.0" y="168.2" font-size="8" text-anchor="middle" >D313A</text>
<text x="442.3" y="168.2" font-size="10" text-anchor="middle" >NT</text>
<text x="464.2" y="168.2" font-size="10" text-anchor="middle" >ZnF</text>
<text x="485.2" y="168.2" font-size="10" text-anchor="middle" >CT1</text>
<text x="508.9" y="168.2" font-size="10" text-anchor="middle" >CT2</text>
<text x="0.2" y="243.3" font-size="17.5" font-weight="bold" text-anchor="start" >C</text>
<text transform="translate(9.8,305.2) rotate(-90)" font-size="10.3" font-weight="bold" text-anchor="middle">Fc&#949;RI internalization (%)</text>
<line x1="32.8" y1="254.9" x2="32.8" y2="357.8" stroke="#000" stroke-width="1.7"/>
<line x1="32.0" y1="357.0" x2="185.6" y2="357.0" stroke="#000" stroke-width="1.6"/>
<line x1="28.1" y1="255.5" x2="32.8" y2="255.5" stroke="#000" stroke-width="1.3"/>
<text transform="translate(26.3,258.45) scale(0.95,1)" font-size="8.2" text-anchor="end" >100</text>
<line x1="28.1" y1="280.875" x2="32.8" y2="280.875" stroke="#000" stroke-width="1.3"/>
<text x="25.6" y="283.825" font-size="8.2" text-anchor="end" >75</text>
<line x1="28.1" y1="306.25" x2="32.8" y2="306.25" stroke="#000" stroke-width="1.3"/>
<text x="25.6" y="309.2" font-size="8.2" text-anchor="end" >50</text>
<line x1="28.1" y1="331.625" x2="32.8" y2="331.625" stroke="#000" stroke-width="1.3"/>
<text x="25.6" y="334.575" font-size="8.2" text-anchor="end" >25</text>
<line x1="28.1" y1="357.0" x2="32.8" y2="357.0" stroke="#000" stroke-width="1.3"/>
<text x="25.6" y="359.95" font-size="8.2" text-anchor="end" >0</text>
<line x1="44.2" y1="310.4" x2="44.2" y2="311.7" stroke="#000" stroke-width="1.3"/>
<line x1="41.45" y1="310.4" x2="46.95" y2="310.4" stroke="#000" stroke-width="1.4"/>
<rect x="39.2" y="311.7" width="10.0" height="45.30000000000001" fill="#000" stroke="none" stroke-width="0" />
<circle cx="41.95" cy="300.10" r="1.35" fill="#111"/>
<circle cx="45.65" cy="300.10" r="1.35" fill="#111"/>
<line x1="57.7" y1="324.5" x2="57.7" y2="326.3" stroke="#000" stroke-width="1.3"/>
<line x1="55.17" y1="324.5" x2="60.230000000000004" y2="324.5" stroke="#000" stroke-width="1.4"/>
<rect x="53.85" y="327.05" width="7.699999999999996" height="29.94999999999999" fill="#fff" stroke="#000" stroke-width="1.5" />
<text x="57.7" y="319.2" font-size="8.0" font-weight="bold" text-anchor="middle" >++</text>
<line x1="71.2" y1="308.4" x2="71.2" y2="311.6" stroke="#000" stroke-width="1.3"/>
<line x1="68.56" y1="308.4" x2="73.84" y2="308.4" stroke="#000" stroke-width="1.4"/>
<rect x="66.4" y="311.6" width="9.599999999999994" height="45.39999999999998" fill="#fff"/>
<g clip-path="url(#bc7)" stroke="#000">
<line x1="66.4" y1="317.60" x2="76.0" y2="317.60" stroke-width="1.4"/>
<line x1="66.4" y1="323.60" x2="76.0" y2="323.60" stroke-width="1.4"/>
<line x1="66.4" y1="329.60" x2="76.0" y2="329.60" stroke-width="1.4"/>
<line x1="66.4" y1="335.60" x2="76.0" y2="335.60" stroke-width="1.4"/>
<line x1="66.4" y1="341.60" x2="76.0" y2="341.60" stroke-width="1.4"/>
<line x1="66.4" y1="347.60" x2="76.0" y2="347.60" stroke-width="1.4"/>
<line x1="66.4" y1="353.60" x2="76.0" y2="353.60" stroke-width="1.4"/>
</g>
<rect x="67.15" y="312.35" width="8.099999999999994" height="44.64999999999998" fill="none" stroke="#000" stroke-width="1.5" />
<circle cx="70.80" cy="300.90" r="1.35" fill="#111"/>
<line x1="84.55" y1="312.3" x2="84.55" y2="313.7" stroke="#000" stroke-width="1.3"/>
<line x1="81.8275" y1="312.3" x2="87.2725" y2="312.3" stroke="#000" stroke-width="1.4"/>
<rect x="79.6" y="313.7" width="9.900000000000006" height="43.30000000000001" fill="#fff"/>
<g clip-path="url(#bc8)" stroke="#000">
<line x1="79.6" y1="319.80" x2="89.5" y2="319.80" stroke-width="1.4"/>
<line x1="79.6" y1="325.90" x2="89.5" y2="325.90" stroke-width="1.4"/>
<line x1="79.6" y1="332.00" x2="89.5" y2="332.00" stroke-width="1.4"/>
<line x1="79.6" y1="338.10" x2="89.5" y2="338.10" stroke-width="1.4"/>
<line x1="79.6" y1="344.20" x2="89.5" y2="344.20" stroke-width="1.4"/>
<line x1="79.6" y1="350.30" x2="89.5" y2="350.30" stroke-width="1.4"/>
<line x1="85.90" y1="313.7" x2="85.90" y2="357.0" stroke-width="1.4"/>
</g>
<rect x="80.35" y="314.45" width="8.400000000000006" height="42.55000000000001" fill="none" stroke="#000" stroke-width="1.5" />
<line x1="98.35" y1="310.7" x2="98.35" y2="314.2" stroke="#000" stroke-width="1.3"/>
<line x1="95.6275" y1="310.7" x2="101.07249999999999" y2="310.7" stroke="#000" stroke-width="1.4"/>
<rect x="93.4" y="314.2" width="9.899999999999991" height="42.80000000000001" fill="#fff"/>
<g clip-path="url(#bc9)" stroke="#000">
<line x1="93.4" y1="295.30" x2="103.3" y2="305.20" stroke-width="1.7"/>
<line x1="93.4" y1="301.60" x2="103.3" y2="311.50" stroke-width="1.7"/>
<line x1="93.4" y1="307.90" x2="103.3" y2="317.80" stroke-width="1.7"/>
<line x1="93.4" y1="314.20" x2="103.3" y2="324.10" stroke-width="1.7"/>
<line x1="93.4" y1="320.50" x2="103.3" y2="330.40" stroke-width="1.7"/>
<line x1="93.4" y1="326.80" x2="103.3" y2="336.70" stroke-width="1.7"/>
<line x1="93.4" y1="333.10" x2="103.3" y2="343.00" stroke-width="1.7"/>
<line x1="93.4" y1="339.40" x2="103.3" y2="349.30" stroke-width="1.7"/>
<line x1="93.4" y1="345.70" x2="103.3" y2="355.60" stroke-width="1.7"/>
<line x1="93.4" y1="352.00" x2="103.3" y2="361.90" stroke-width="1.7"/>
<line x1="93.4" y1="358.30" x2="103.3" y2="368.20" stroke-width="1.7"/>
</g>
<rect x="94.15" y="314.95" width="8.399999999999991" height="42.05000000000001" fill="none" stroke="#000" stroke-width="1.5" />
<line x1="120.35" y1="285.2" x2="120.35" y2="285.8" stroke="#000" stroke-width="1.3"/>
<line x1="117.57249999999999" y1="285.2" x2="123.1275" y2="285.2" stroke="#000" stroke-width="1.4"/>
<rect x="115.3" y="285.8" width="10.100000000000009" height="71.19999999999999" fill="#000" stroke="none" stroke-width="0" />
<circle cx="116.25" cy="269.30" r="1.35" fill="#111"/>
<circle cx="119.95" cy="269.30" r="1.35" fill="#111"/>
<circle cx="123.65" cy="269.30" r="1.35" fill="#111"/>
<line x1="133.8" y1="309.0" x2="133.8" y2="312.6" stroke="#000" stroke-width="1.3"/>
<line x1="131.27" y1="309.0" x2="136.33" y2="309.0" stroke="#000" stroke-width="1.4"/>
<rect x="129.95" y="313.35" width="7.700000000000017" height="43.64999999999998" fill="#fff" stroke="#000" stroke-width="1.5" />
<text x="133.8" y="301.90000000000003" font-size="8.0" font-weight="bold" text-anchor="middle" >+++</text>
<line x1="147.15" y1="290.7" x2="147.15" y2="293.1" stroke="#000" stroke-width="1.3"/>
<line x1="144.5375" y1="290.7" x2="149.76250000000002" y2="290.7" stroke="#000" stroke-width="1.4"/>
<rect x="142.4" y="293.1" width="9.5" height="63.89999999999998" fill="#fff"/>
<g clip-path="url(#bc10)" stroke="#000">
<line x1="142.4" y1="299.10" x2="151.9" y2="299.10" stroke-width="1.4"/>
<line x1="142.4" y1="305.10" x2="151.9" y2="305.10" stroke-width="1.4"/>
<line x1="142.4" y1="311.10" x2="151.9" y2="311.10" stroke-width="1.4"/>
<line x1="142.4" y1="317.10" x2="151.9" y2="317.10" stroke-width="1.4"/>
<line x1="142.4" y1="323.10" x2="151.9" y2="323.10" stroke-width="1.4"/>
<line x1="142.4" y1="329.10" x2="151.9" y2="329.10" stroke-width="1.4"/>
<line x1="142.4" y1="335.10" x2="151.9" y2="335.10" stroke-width="1.4"/>
<line x1="142.4" y1="341.10" x2="151.9" y2="341.10" stroke-width="1.4"/>
<line x1="142.4" y1="347.10" x2="151.9" y2="347.10" stroke-width="1.4"/>
<line x1="142.4" y1="353.10" x2="151.9" y2="353.10" stroke-width="1.4"/>
</g>
<rect x="143.15" y="293.85" width="8.0" height="63.14999999999998" fill="none" stroke="#000" stroke-width="1.5" />
<circle cx="144.90" cy="282.80" r="1.35" fill="#111"/>
<circle cx="148.60" cy="282.80" r="1.35" fill="#111"/>
<line x1="160.8" y1="290.7" x2="160.8" y2="293.1" stroke="#000" stroke-width="1.3"/>
<line x1="158.05" y1="290.7" x2="163.55" y2="290.7" stroke="#000" stroke-width="1.4"/>
<rect x="155.8" y="293.1" width="10.0" height="63.89999999999998" fill="#fff"/>
<g clip-path="url(#bc11)" stroke="#000">
<line x1="155.8" y1="299.20" x2="165.8" y2="299.20" stroke-width="1.4"/>
<line x1="155.8" y1="305.30" x2="165.8" y2="305.30" stroke-width="1.4"/>
<line x1="155.8" y1="311.40" x2="165.8" y2="311.40" stroke-width="1.4"/>
<line x1="155.8" y1="317.50" x2="165.8" y2="317.50" stroke-width="1.4"/>
<line x1="155.8" y1="323.60" x2="165.8" y2="323.60" stroke-width="1.4"/>
<line x1="155.8" y1="329.70" x2="165.8" y2="329.70" stroke-width="1.4"/>
<line x1="155.8" y1="335.80" x2="165.8" y2="335.80" stroke-width="1.4"/>
<line x1="155.8" y1="341.90" x2="165.8" y2="341.90" stroke-width="1.4"/>
<line x1="155.8" y1="348.00" x2="165.8" y2="348.00" stroke-width="1.4"/>
<line x1="155.8" y1="354.10" x2="165.8" y2="354.10" stroke-width="1.4"/>
<line x1="162.10" y1="293.1" x2="162.10" y2="357.0" stroke-width="1.4"/>
</g>
<rect x="156.55" y="293.85" width="8.5" height="63.14999999999998" fill="none" stroke="#000" stroke-width="1.5" />
<circle cx="158.55" cy="282.50" r="1.35" fill="#111"/>
<circle cx="162.25" cy="282.50" r="1.35" fill="#111"/>
<line x1="174.65" y1="290.4" x2="174.65" y2="292.2" stroke="#000" stroke-width="1.3"/>
<line x1="171.8175" y1="290.4" x2="177.48250000000002" y2="290.4" stroke="#000" stroke-width="1.4"/>
<rect x="169.5" y="292.2" width="10.300000000000011" height="64.80000000000001" fill="#fff"/>
<g clip-path="url(#bc12)" stroke="#000">
<line x1="169.5" y1="273.30" x2="179.8" y2="283.60" stroke-width="1.7"/>
<line x1="169.5" y1="279.60" x2="179.8" y2="289.90" stroke-width="1.7"/>
<line x1="169.5" y1="285.90" x2="179.8" y2="296.20" stroke-width="1.7"/>
<line x1="169.5" y1="292.20" x2="179.8" y2="302.50" stroke-width="1.7"/>
<line x1="169.5" y1="298.50" x2="179.8" y2="308.80" stroke-width="1.7"/>
<line x1="169.5" y1="304.80" x2="179.8" y2="315.10" stroke-width="1.7"/>
<line x1="169.5" y1="311.10" x2="179.8" y2="321.40" stroke-width="1.7"/>
<line x1="169.5" y1="317.40" x2="179.8" y2="327.70" stroke-width="1.7"/>
<line x1="169.5" y1="323.70" x2="179.8" y2="334.00" stroke-width="1.7"/>
<line x1="169.5" y1="330.00" x2="179.8" y2="340.30" stroke-width="1.7"/>
<line x1="169.5" y1="336.30" x2="179.8" y2="346.60" stroke-width="1.7"/>
<line x1="169.5" y1="342.60" x2="179.8" y2="352.90" stroke-width="1.7"/>
<line x1="169.5" y1="348.90" x2="179.8" y2="359.20" stroke-width="1.7"/>
<line x1="169.5" y1="355.20" x2="179.8" y2="365.50" stroke-width="1.7"/>
</g>
<rect x="170.25" y="292.95" width="8.800000000000011" height="64.05000000000001" fill="none" stroke="#000" stroke-width="1.5" />
<circle cx="172.40" cy="282.40" r="1.35" fill="#111"/>
<circle cx="176.10" cy="282.40" r="1.35" fill="#111"/>
<line x1="39.7" y1="360.9" x2="103.8" y2="360.9" stroke="#000" stroke-width="1.4"/>
<line x1="115.9" y1="360.9" x2="178.7" y2="360.9" stroke="#000" stroke-width="1.4"/>
<text transform="translate(72.4,372.7) scale(1.07,1)" font-size="9.8" text-anchor="middle" >30 min</text>
<text transform="translate(144.1,372.9) scale(1.07,1)" font-size="9.8" text-anchor="middle" >60 min</text>
<text x="184.6" y="244.5" font-size="17.5" font-weight="bold" text-anchor="start" >D</text>
<text transform="translate(194.6,305.9) rotate(-90)" font-size="10.4" font-weight="bold" text-anchor="middle">&#946;-Hex release (%)</text>
<line x1="213.8" y1="254.1" x2="213.8" y2="357.8" stroke="#000" stroke-width="1.6"/>
<line x1="213.0" y1="357.0" x2="365.0" y2="357.0" stroke="#000" stroke-width="1.6"/>
<line x1="208.8" y1="254.76" x2="213.8" y2="254.76" stroke="#000" stroke-width="1.3"/>
<text x="206.5" y="257.71" font-size="8.2" text-anchor="end" >60</text>
<line x1="208.8" y1="271.8" x2="213.8" y2="271.8" stroke="#000" stroke-width="1.3"/>
<text x="206.5" y="274.75" font-size="8.2" text-anchor="end" >50</text>
<line x1="208.8" y1="288.84000000000003" x2="213.8" y2="288.84000000000003" stroke="#000" stroke-width="1.3"/>
<text x="206.5" y="291.79" font-size="8.2" text-anchor="end" >40</text>
<line x1="208.8" y1="305.88" x2="213.8" y2="305.88" stroke="#000" stroke-width="1.3"/>
<text x="206.5" y="308.83" font-size="8.2" text-anchor="end" >30</text>
<line x1="208.8" y1="322.92" x2="213.8" y2="322.92" stroke="#000" stroke-width="1.3"/>
<text x="206.5" y="325.87" font-size="8.2" text-anchor="end" >20</text>
<line x1="208.8" y1="339.96" x2="213.8" y2="339.96" stroke="#000" stroke-width="1.3"/>
<text x="206.5" y="342.90999999999997" font-size="8.2" text-anchor="end" >10</text>
<line x1="208.8" y1="357.0" x2="213.8" y2="357.0" stroke="#000" stroke-width="1.3"/>
<text x="206.5" y="359.95" font-size="8.2" text-anchor="end" >0</text>
<line x1="224.85000000000002" y1="331.3" x2="224.85000000000002" y2="332.2" stroke="#000" stroke-width="1.3"/>
<line x1="222.07250000000002" y1="331.3" x2="227.62750000000003" y2="331.3" stroke="#000" stroke-width="1.4"/>
<rect x="219.8" y="332.2" width="10.099999999999994" height="24.80000000000001" fill="#000" stroke="none" stroke-width="0" />
<line x1="238.45" y1="328.3" x2="238.45" y2="329.6" stroke="#000" stroke-width="1.3"/>
<line x1="235.7275" y1="328.3" x2="241.17249999999999" y2="328.3" stroke="#000" stroke-width="1.4"/>
<rect x="234.25" y="330.35" width="8.400000000000006" height="26.649999999999977" fill="#fff" stroke="#000" stroke-width="1.5" />
<line x1="251.8" y1="330.4" x2="251.8" y2="333.1" stroke="#000" stroke-width="1.3"/>
<line x1="249.16" y1="330.4" x2="254.44000000000003" y2="330.4" stroke="#000" stroke-width="1.4"/>
<rect x="247.0" y="333.1" width="9.600000000000023" height="23.899999999999977" fill="#fff"/>
<g clip-path="url(#bc13)" stroke="#000">
<line x1="247.0" y1="339.00" x2="256.6" y2="339.00" stroke-width="1.4"/>
<line x1="247.0" y1="344.90" x2="256.6" y2="344.90" stroke-width="1.4"/>
<line x1="247.0" y1="350.80" x2="256.6" y2="350.80" stroke-width="1.4"/>
</g>
<rect x="247.75" y="333.85" width="8.100000000000023" height="23.149999999999977" fill="none" stroke="#000" stroke-width="1.5" />
<line x1="265.1" y1="334.4" x2="265.1" y2="337.6" stroke="#000" stroke-width="1.3"/>
<line x1="262.46000000000004" y1="334.4" x2="267.74" y2="334.4" stroke="#000" stroke-width="1.4"/>
<rect x="260.3" y="337.6" width="9.599999999999966" height="19.399999999999977" fill="#fff"/>
<g clip-path="url(#bc14)" stroke="#000">
<line x1="260.3" y1="343.60" x2="269.9" y2="343.60" stroke-width="1.4"/>
<line x1="260.3" y1="349.60" x2="269.9" y2="349.60" stroke-width="1.4"/>
<line x1="260.3" y1="355.60" x2="269.9" y2="355.60" stroke-width="1.4"/>
<line x1="266.40" y1="337.6" x2="266.40" y2="357.0" stroke-width="1.4"/>
</g>
<rect x="261.05" y="338.35" width="8.099999999999966" height="18.649999999999977" fill="none" stroke="#000" stroke-width="1.5" />
<line x1="278.15" y1="338.1" x2="278.15" y2="340.2" stroke="#000" stroke-width="1.3"/>
<line x1="275.3725" y1="338.1" x2="280.92749999999995" y2="338.1" stroke="#000" stroke-width="1.4"/>
<rect x="273.1" y="340.2" width="10.099999999999966" height="16.80000000000001" fill="#fff"/>
<g clip-path="url(#bc15)" stroke="#000">
<line x1="273.1" y1="319.80" x2="283.2" y2="329.90" stroke-width="1.8"/>
<line x1="273.1" y1="326.60" x2="283.2" y2="336.70" stroke-width="1.8"/>
<line x1="273.1" y1="333.40" x2="283.2" y2="343.50" stroke-width="1.8"/>
<line x1="273.1" y1="340.20" x2="283.2" y2="350.30" stroke-width="1.8"/>
<line x1="273.1" y1="347.00" x2="283.2" y2="357.10" stroke-width="1.8"/>
<line x1="273.1" y1="353.80" x2="283.2" y2="363.90" stroke-width="1.8"/>
</g>
<rect x="273.85" y="340.95" width="8.599999999999966" height="16.05000000000001" fill="none" stroke="#000" stroke-width="1.5" />
<line x1="300.95000000000005" y1="306.6" x2="300.95000000000005" y2="308.0" stroke="#000" stroke-width="1.3"/>
<line x1="298.2825" y1="306.6" x2="303.61750000000006" y2="306.6" stroke="#000" stroke-width="1.4"/>
<rect x="296.1" y="308.0" width="9.699999999999989" height="49.0" fill="#000" stroke="none" stroke-width="0" />
<circle cx="296.85" cy="299.30" r="1.35" fill="#111"/>
<circle cx="300.55" cy="299.30" r="1.35" fill="#111"/>
<circle cx="304.25" cy="299.30" r="1.35" fill="#111"/>
<line x1="314.45" y1="275.9" x2="314.45" y2="279.1" stroke="#000" stroke-width="1.3"/>
<line x1="311.8375" y1="275.9" x2="317.0625" y2="275.9" stroke="#000" stroke-width="1.4"/>
<rect x="310.45" y="279.85" width="8.0" height="77.14999999999998" fill="#fff" stroke="#000" stroke-width="1.5" />
<text x="314.45" y="271.90000000000003" font-size="8.0" font-weight="bold" text-anchor="middle" >+++</text>
<line x1="327.55" y1="295.6" x2="327.55" y2="300.0" stroke="#000" stroke-width="1.3"/>
<line x1="324.9375" y1="295.6" x2="330.1625" y2="295.6" stroke="#000" stroke-width="1.4"/>
<rect x="322.8" y="300.0" width="9.5" height="57.0" fill="#fff"/>
<g clip-path="url(#bc16)" stroke="#000">
<line x1="322.8" y1="305.90" x2="332.3" y2="305.90" stroke-width="1.4"/>
<line x1="322.8" y1="311.80" x2="332.3" y2="311.80" stroke-width="1.4"/>
<line x1="322.8" y1="317.70" x2="332.3" y2="317.70" stroke-width="1.4"/>
<line x1="322.8" y1="323.60" x2="332.3" y2="323.60" stroke-width="1.4"/>
<line x1="322.8" y1="329.50" x2="332.3" y2="329.50" stroke-width="1.4"/>
<line x1="322.8" y1="335.40" x2="332.3" y2="335.40" stroke-width="1.4"/>
<line x1="322.8" y1="341.30" x2="332.3" y2="341.30" stroke-width="1.4"/>
<line x1="322.8" y1="347.20" x2="332.3" y2="347.20" stroke-width="1.4"/>
<line x1="322.8" y1="353.10" x2="332.3" y2="353.10" stroke-width="1.4"/>
</g>
<rect x="323.55" y="300.75" width="8.0" height="56.25" fill="none" stroke="#000" stroke-width="1.5" />
<circle cx="325.30" cy="288.30" r="1.35" fill="#111"/>
<circle cx="329.00" cy="288.30" r="1.35" fill="#111"/>
<line x1="341.25" y1="311.6" x2="341.25" y2="313.2" stroke="#000" stroke-width="1.3"/>
<line x1="338.5825" y1="311.6" x2="343.9175" y2="311.6" stroke="#000" stroke-width="1.4"/>
<rect x="336.4" y="313.2" width="9.700000000000045" height="43.80000000000001" fill="#fff"/>
<g clip-path="url(#bc17)" stroke="#000">
<line x1="336.4" y1="319.20" x2="346.1" y2="319.20" stroke-width="1.4"/>
<line x1="336.4" y1="325.20" x2="346.1" y2="325.20" stroke-width="1.4"/>
<line x1="336.4" y1="331.20" x2="346.1" y2="331.20" stroke-width="1.4"/>
<line x1="336.4" y1="337.20" x2="346.1" y2="337.20" stroke-width="1.4"/>
<line x1="336.4" y1="343.20" x2="346.1" y2="343.20" stroke-width="1.4"/>
<line x1="336.4" y1="349.20" x2="346.1" y2="349.20" stroke-width="1.4"/>
<line x1="336.4" y1="355.20" x2="346.1" y2="355.20" stroke-width="1.4"/>
<line x1="342.50" y1="313.2" x2="342.50" y2="357.0" stroke-width="1.4"/>
</g>
<rect x="337.15" y="313.95" width="8.200000000000045" height="43.05000000000001" fill="none" stroke="#000" stroke-width="1.5" />
<circle cx="337.15" cy="304.40" r="1.35" fill="#111"/>
<circle cx="340.85" cy="304.40" r="1.35" fill="#111"/>
<circle cx="344.55" cy="304.40" r="1.35" fill="#111"/>
<line x1="354.85" y1="308.0" x2="354.85" y2="309.4" stroke="#000" stroke-width="1.3"/>
<line x1="352.1825" y1="308.0" x2="357.51750000000004" y2="308.0" stroke="#000" stroke-width="1.4"/>
<rect x="350.0" y="309.4" width="9.699999999999989" height="47.60000000000002" fill="#fff"/>
<g clip-path="url(#bc18)" stroke="#000">
<line x1="350.0" y1="289.00" x2="359.7" y2="298.70" stroke-width="1.8"/>
<line x1="350.0" y1="295.80" x2="359.7" y2="305.50" stroke-width="1.8"/>
<line x1="350.0" y1="302.60" x2="359.7" y2="312.30" stroke-width="1.8"/>
<line x1="350.0" y1="309.40" x2="359.7" y2="319.10" stroke-width="1.8"/>
<line x1="350.0" y1="316.20" x2="359.7" y2="325.90" stroke-width="1.8"/>
<line x1="350.0" y1="323.00" x2="359.7" y2="332.70" stroke-width="1.8"/>
<line x1="350.0" y1="329.80" x2="359.7" y2="339.50" stroke-width="1.8"/>
<line x1="350.0" y1="336.60" x2="359.7" y2="346.30" stroke-width="1.8"/>
<line x1="350.0" y1="343.40" x2="359.7" y2="353.10" stroke-width="1.8"/>
<line x1="350.0" y1="350.20" x2="359.7" y2="359.90" stroke-width="1.8"/>
<line x1="350.0" y1="357.00" x2="359.7" y2="366.70" stroke-width="1.8"/>
</g>
<rect x="350.75" y="310.15" width="8.199999999999989" height="46.85000000000002" fill="none" stroke="#000" stroke-width="1.5" />
<circle cx="350.75" cy="299.50" r="1.35" fill="#111"/>
<circle cx="354.45" cy="299.50" r="1.35" fill="#111"/>
<circle cx="358.15" cy="299.50" r="1.35" fill="#111"/>
<line x1="221.6" y1="361.2" x2="283.8" y2="361.2" stroke="#000" stroke-width="1.4"/>
<line x1="297.0" y1="361.2" x2="361.0" y2="361.2" stroke="#000" stroke-width="1.4"/>
<text transform="translate(251.8,373.3) scale(1.07,1)" font-size="9.8" text-anchor="middle" >0 ng/ml</text>
<text transform="translate(330.0,373.3) scale(1.05,1)" font-size="9.8" text-anchor="middle" >100 ng/ml</text>
<text x="366.5" y="244.8" font-size="17.5" font-weight="bold" text-anchor="start" >E</text>
<text transform="translate(376.4,307.5) rotate(-90)" font-size="10.2" font-weight="bold" text-anchor="middle">IL-6 (ng/ml)</text>
<line x1="399.3" y1="254.2" x2="399.3" y2="357.8" stroke="#000" stroke-width="1.6"/>
<line x1="398.5" y1="357.0" x2="517.0" y2="357.0" stroke="#000" stroke-width="1.6"/>
<line x1="394.8" y1="254.8" x2="399.3" y2="254.8" stroke="#000" stroke-width="1.3"/>
<text x="392.3" y="257.75" font-size="8.2" text-anchor="end" >12.5</text>
<line x1="394.8" y1="275.24" x2="399.3" y2="275.24" stroke="#000" stroke-width="1.3"/>
<text x="392.3" y="278.19" font-size="8.2" text-anchor="end" >10.0</text>
<line x1="394.8" y1="295.68" x2="399.3" y2="295.68" stroke="#000" stroke-width="1.3"/>
<text x="392.3" y="298.63" font-size="8.2" text-anchor="end" >7.5</text>
<line x1="394.8" y1="316.12" x2="399.3" y2="316.12" stroke="#000" stroke-width="1.3"/>
<text x="392.3" y="319.07" font-size="8.2" text-anchor="end" >5.0</text>
<line x1="394.8" y1="336.56" x2="399.3" y2="336.56" stroke="#000" stroke-width="1.3"/>
<text x="392.3" y="339.51" font-size="8.2" text-anchor="end" >2.5</text>
<line x1="394.8" y1="357.0" x2="399.3" y2="357.0" stroke="#000" stroke-width="1.3"/>
<text x="392.3" y="359.95" font-size="8.2" text-anchor="end" >0</text>
<line x1="411.15" y1="332.0" x2="411.15" y2="332.7" stroke="#000" stroke-width="1.3"/>
<line x1="406.72249999999997" y1="332.0" x2="415.5775" y2="332.0" stroke="#000" stroke-width="1.4"/>
<rect x="403.1" y="332.7" width="16.099999999999966" height="24.30000000000001" fill="#000" stroke="none" stroke-width="0" />
<circle cx="406.60" cy="322.80" r="1.45" fill="#111"/>
<circle cx="410.75" cy="322.80" r="1.45" fill="#111"/>
<circle cx="414.90" cy="322.80" r="1.45" fill="#111"/>
<line x1="434.4" y1="255.6" x2="434.4" y2="264.2" stroke="#000" stroke-width="1.3"/>
<line x1="429.945" y1="255.6" x2="438.85499999999996" y2="255.6" stroke="#000" stroke-width="1.4"/>
<rect x="427.05" y="264.95" width="14.699999999999989" height="92.05000000000001" fill="#fff" stroke="#000" stroke-width="1.5" />
<text x="434.4" y="249.98000000000002" font-size="8.8" font-weight="bold" text-anchor="middle" >+++</text>
<line x1="457.5" y1="318.8" x2="457.5" y2="325.3" stroke="#000" stroke-width="1.3"/>
<line x1="452.935" y1="318.8" x2="462.065" y2="318.8" stroke="#000" stroke-width="1.4"/>
<rect x="449.2" y="325.3" width="16.600000000000023" height="31.69999999999999" fill="#fff"/>
<g clip-path="url(#bc19)" stroke="#000">
<line x1="449.2" y1="331.15" x2="465.8" y2="331.15" stroke-width="1.7"/>
<line x1="449.2" y1="337.00" x2="465.8" y2="337.00" stroke-width="1.7"/>
<line x1="449.2" y1="342.85" x2="465.8" y2="342.85" stroke-width="1.7"/>
<line x1="449.2" y1="348.70" x2="465.8" y2="348.70" stroke-width="1.7"/>
<line x1="449.2" y1="354.55" x2="465.8" y2="354.55" stroke-width="1.7"/>
</g>
<rect x="449.95" y="326.05" width="15.100000000000023" height="30.94999999999999" fill="none" stroke="#000" stroke-width="1.5" />
<circle cx="452.95" cy="307.30" r="1.45" fill="#111"/>
<circle cx="457.10" cy="307.30" r="1.45" fill="#111"/>
<circle cx="461.25" cy="307.30" r="1.45" fill="#111"/>
<line x1="481.05" y1="328.1" x2="481.05" y2="331.1" stroke="#000" stroke-width="1.3"/>
<line x1="476.5125" y1="328.1" x2="485.58750000000003" y2="328.1" stroke="#000" stroke-width="1.4"/>
<rect x="472.8" y="331.1" width="16.5" height="25.899999999999977" fill="#fff"/>
<g clip-path="url(#bc20)" stroke="#000">
<line x1="472.8" y1="337.20" x2="489.3" y2="337.20" stroke-width="1.7"/>
<line x1="472.8" y1="343.30" x2="489.3" y2="343.30" stroke-width="1.7"/>
<line x1="472.8" y1="349.40" x2="489.3" y2="349.40" stroke-width="1.7"/>
<line x1="472.8" y1="355.50" x2="489.3" y2="355.50" stroke-width="1.7"/>
<line x1="478.70" y1="331.1" x2="478.70" y2="357.0" stroke-width="1.7"/>
<line x1="484.60" y1="331.1" x2="484.60" y2="357.0" stroke-width="1.7"/>
</g>
<rect x="473.55" y="331.85" width="15.0" height="25.149999999999977" fill="none" stroke="#000" stroke-width="1.5" />
<circle cx="476.50" cy="318.90" r="1.45" fill="#111"/>
<circle cx="480.65" cy="318.90" r="1.45" fill="#111"/>
<circle cx="484.80" cy="318.90" r="1.45" fill="#111"/>
<line x1="504.7" y1="329.7" x2="504.7" y2="332.3" stroke="#000" stroke-width="1.3"/>
<line x1="500.19" y1="329.7" x2="509.21" y2="329.7" stroke="#000" stroke-width="1.4"/>
<rect x="496.5" y="332.3" width="16.399999999999977" height="24.69999999999999" fill="#fff"/>
<g clip-path="url(#bc21)" stroke="#000">
<line x1="496.5" y1="303.30" x2="512.9" y2="322.16" stroke-width="1.8"/>
<line x1="496.5" y1="309.10" x2="512.9" y2="327.96" stroke-width="1.8"/>
<line x1="496.5" y1="314.90" x2="512.9" y2="333.76" stroke-width="1.8"/>
<line x1="496.5" y1="320.70" x2="512.9" y2="339.56" stroke-width="1.8"/>
<line x1="496.5" y1="326.50" x2="512.9" y2="345.36" stroke-width="1.8"/>
<line x1="496.5" y1="332.30" x2="512.9" y2="351.16" stroke-width="1.8"/>
<line x1="496.5" y1="338.10" x2="512.9" y2="356.96" stroke-width="1.8"/>
<line x1="496.5" y1="343.90" x2="512.9" y2="362.76" stroke-width="1.8"/>
<line x1="496.5" y1="349.70" x2="512.9" y2="368.56" stroke-width="1.8"/>
<line x1="496.5" y1="355.50" x2="512.9" y2="374.36" stroke-width="1.8"/>
</g>
<rect x="497.25" y="333.05" width="14.899999999999977" height="23.94999999999999" fill="none" stroke="#000" stroke-width="1.5" />
<circle cx="500.15" cy="321.90" r="1.45" fill="#111"/>
<circle cx="504.30" cy="321.90" r="1.45" fill="#111"/>
<circle cx="508.45" cy="321.90" r="1.45" fill="#111"/></svg></body></html>
